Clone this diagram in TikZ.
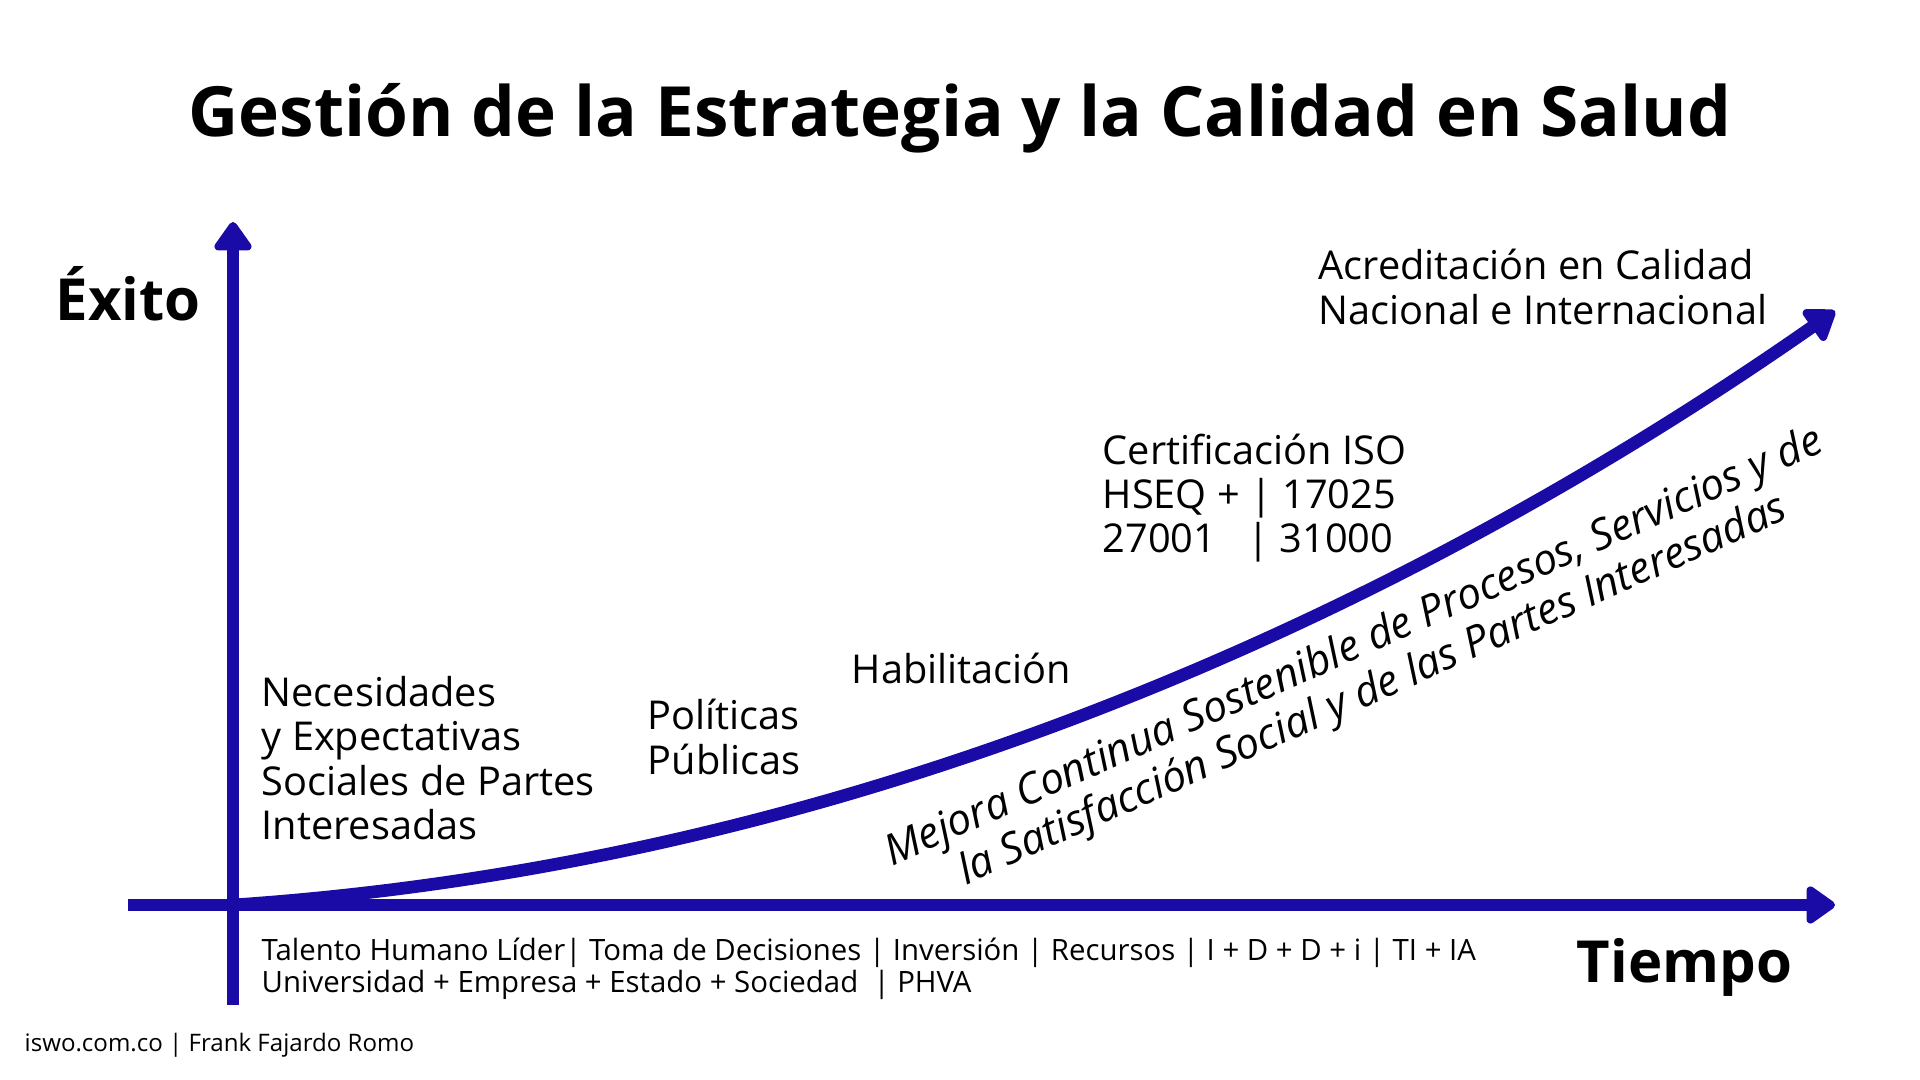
\documentclass[tikz,border=0pt]{standalone}
\usepackage{fontspec}
\setmainfont{Open Sans}
\usetikzlibrary{arrows.meta}
\definecolor{axisblue}{RGB}{26,10,166}
\tikzset{
  axisline/.style={draw=axisblue, line width=3.4pt, -{Triangle[length=9pt,width=12pt,round]}},
  bodytext/.style={anchor=west, inner sep=0pt, align=left, font=\fontsize{11.3}{12.6}\selectfont},
  bigbold/.style={inner sep=0pt, font=\fontsize{16.5}{19}\selectfont\bfseries},
}
\begin{document}
\begin{tikzpicture}[x=0.01cm,y=-0.01cm]
\useasboundingbox[fill=white] (0,0) rectangle (1920,1080);

% coordinates
\coordinate (origin) at (233,905);
\coordinate (ytop) at (233,222);
\coordinate (ybot) at (233,1005);
\coordinate (xleft) at (128,905);
\coordinate (xright) at (1835,905);
\coordinate (ctip) at (1835,311);

% axes
\draw[axisline, -] (ybot) -- (origin);
\draw[axisline] (origin) -- (ytop);
\draw[axisline, -] (xleft) -- (origin);
\draw[axisline] (origin) -- (xright);
% growth curve
\draw[axisline, line width=3.6pt] (origin) .. controls (900,860) and (1450,580) .. (ctip);

% title
\node[anchor=base, inner sep=0pt, font=\fontsize{19.7}{24}\selectfont\bfseries] (title) at (960,137)
  {Gestión de la Estrategia y la Calidad en Salud};

% axis labels
\node[bigbold, anchor=base west] (exito) at (55,321) {Éxito};
\node[bigbold, anchor=base west] (tiempo) at (1576,983) {Tiempo};

% stage labels
\node[bodytext] (necesidades) at (261,758) {Necesidades\\y Expectativas\\Sociales de Partes\\Interesadas};
\node[bodytext] (politicas) at (647,737) {Políticas\\Públicas};
\node[bodytext] (habilitacion) at (851,668) {Habilitación};
\node[bodytext] (certificacion) at (1102,498) {Certificación ISO\\HSEQ + | 17025\\27001 \ \ | 31000};
\node[bodytext] (acreditacion) at (1318,287) {Acreditación en Calidad\\Nacional e Internacional};

% diagonal text
\node[inner sep=0pt, align=center, rotate=24, font=\fontsize{12.1}{13.4}\selectfont\itshape] (mejora) at (1364,670)
  {Mejora Continua Sostenible de Procesos, Servicios y de\\la Satisfacción Social y de las Partes Interesadas};

% bottom text
\node[anchor=west, inner sep=0pt, align=left, font=\fontsize{8.35}{9.2}\selectfont] (bottom) at (261,969)
  {Talento Humano Líder| Toma de Decisiones | Inversión | Recursos | I + D + D + i | TI + IA\\Universidad + Empresa + Estado + Sociedad \ | PHVA};

% footer
\node[anchor=base west, inner sep=0pt, font=\fontsize{6.85}{8}\selectfont] (footer) at (24,1052)
  {iswo.com.co | Frank Fajardo Romo};
\end{tikzpicture}
\end{document}
